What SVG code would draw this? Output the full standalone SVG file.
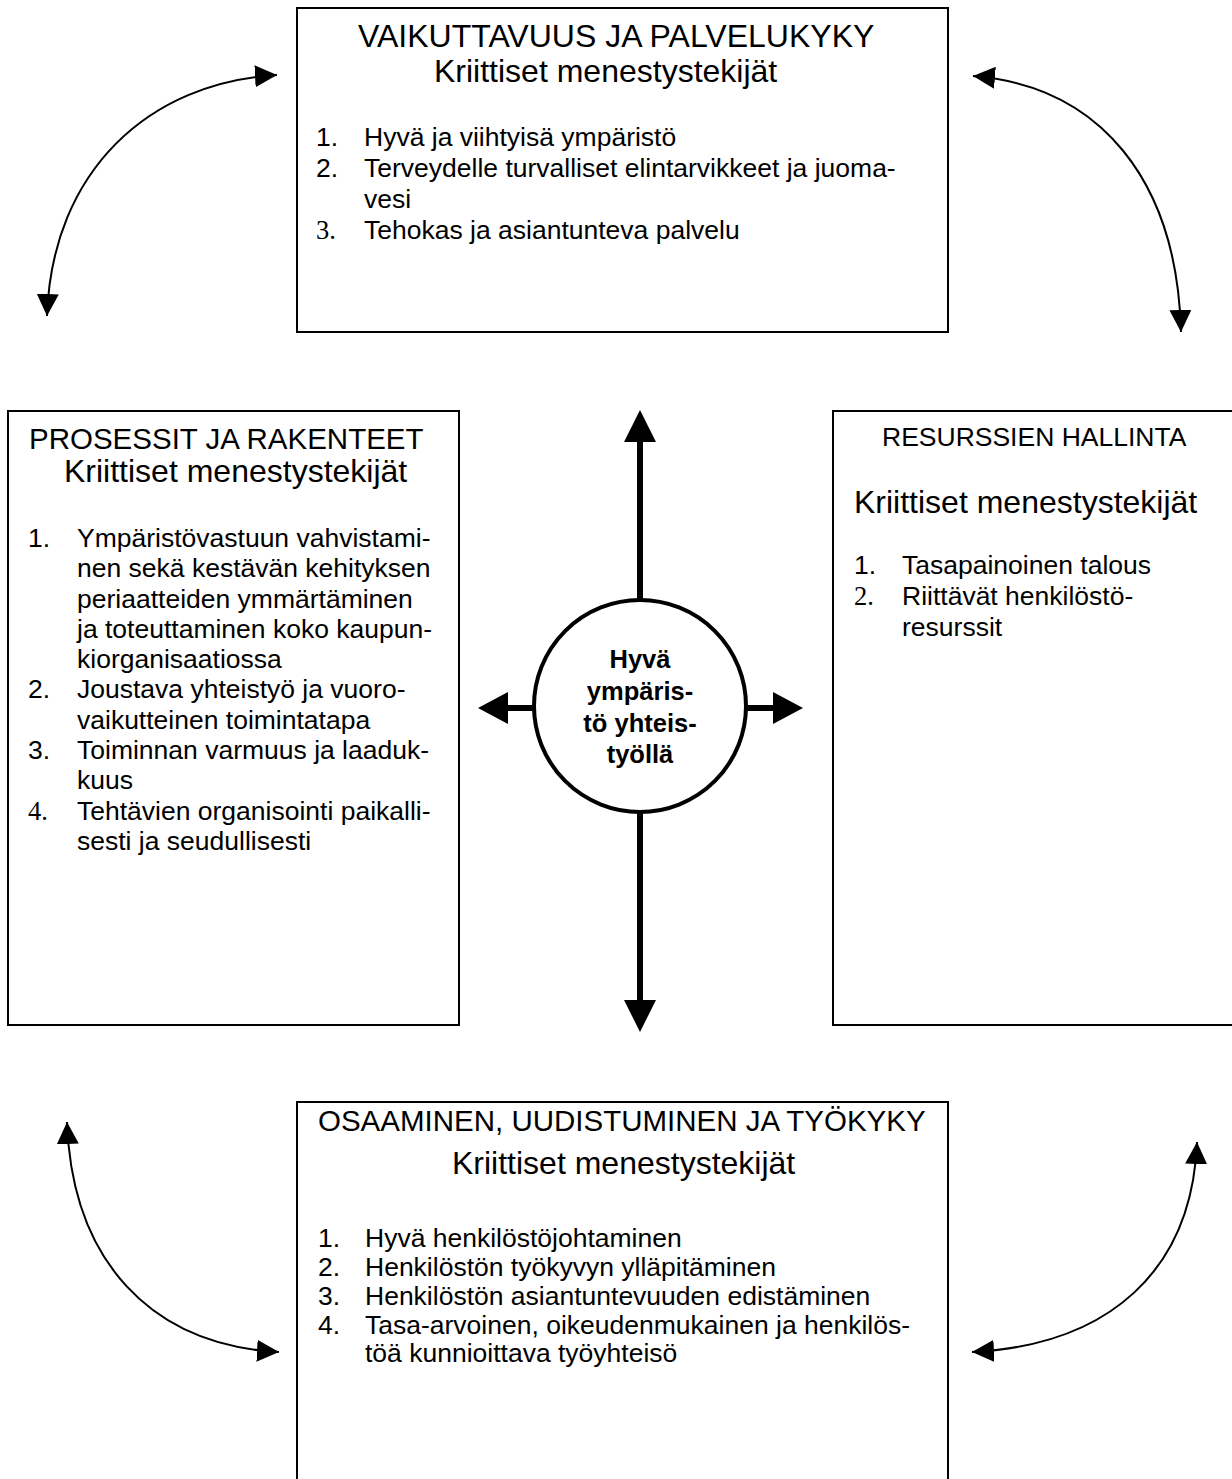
<svg xmlns="http://www.w3.org/2000/svg" width="1232" height="1479" viewBox="0 0 1232 1479">
<style>
.box{fill:#fff;stroke:#000;stroke-width:2}
.t{font-family:"Liberation Sans",Arial,sans-serif;fill:#000}
.h14{font-size:32px}
.h13{font-size:29.5px}
.h12{font-size:26.5px}
.li{font-size:26.5px}
.ser{font-family:"Liberation Serif","Times New Roman",serif}
.c{font-family:"Liberation Sans",Arial,sans-serif;font-size:25.5px;font-weight:bold;text-anchor:middle}
.thin{fill:none;stroke:#000;stroke-width:2}
.thick{stroke:#000;stroke-width:6}
</style>
<defs>
<marker id="ah" viewBox="0 0 22 22" markerWidth="22" markerHeight="22" markerUnits="userSpaceOnUse" refX="22" refY="11" orient="auto-start-reverse">
<path d="M0,0 L22,11 L0,22 z" fill="#000"/>
</marker>
</defs>
<rect width="1232" height="1479" fill="#fff"/>

<g id="top">
<rect class="box" x="297" y="8" width="651" height="324"/>
<text class="t h14" x="358" y="47">VAIKUTTAVUUS JA PALVELUKYKY</text>
<text class="t h14" x="434" y="82">Kriittiset menestystekijät</text>
<text class="t li" x="316" y="146">1.</text><text class="t li" x="364" y="146">Hyvä ja viihtyisä ympäristö</text>
<text class="t li" x="316" y="177">2.</text><text class="t li" x="364" y="177">Terveydelle turvalliset elintarvikkeet ja juoma-</text>
<text class="t li" x="364" y="208">vesi</text>
<text class="t li ser" x="316" y="239">3.</text><text class="t li" x="364" y="239">Tehokas ja asiantunteva palvelu</text>
</g>

<g id="left">
<rect class="box" x="8" y="411" width="451" height="614"/>
<text class="t h13" x="29" y="449">PROSESSIT JA RAKENTEET</text>
<text class="t h14" x="64" y="482">Kriittiset menestystekijät</text>
<text class="t li" x="28" y="547">1.</text><text class="t li" x="77" y="547">Ympäristövastuun vahvistami-</text>
<text class="t li" x="77" y="577">nen sekä kestävän kehityksen</text>
<text class="t li" x="77" y="608">periaatteiden  ymmärtäminen</text>
<text class="t li" x="77" y="638">ja toteuttaminen koko kaupun-</text>
<text class="t li" x="77" y="668">kiorganisaatiossa</text>
<text class="t li" x="28" y="698">2.</text><text class="t li" x="77" y="698">Joustava yhteistyö ja vuoro-</text>
<text class="t li" x="77" y="729">vaikutteinen toimintatapa</text>
<text class="t li" x="28" y="759">3.</text><text class="t li" x="77" y="759">Toiminnan varmuus ja laaduk-</text>
<text class="t li" x="77" y="789">kuus</text>
<text class="t li ser" x="28" y="820">4.</text><text class="t li" x="77" y="820">Tehtävien organisointi paikalli-</text>
<text class="t li" x="77" y="850">sesti ja seudullisesti</text>
</g>

<g id="right">
<path class="box" d="M1240 411 H833 V1025 H1240" />
<text class="t h12" x="882" y="446">RESURSSIEN HALLINTA</text>
<text class="t h14" x="854" y="513">Kriittiset menestystekijät</text>
<text class="t li" x="854" y="574">1.</text><text class="t li" x="902" y="574">Tasapainoinen talous</text>
<text class="t li ser" x="854" y="605">2.</text><text class="t li" x="902" y="605">Riittävät henkilöstö-</text>
<text class="t li" x="902" y="636">resurssit</text>
</g>

<g id="bottom">
<path class="box" d="M297 1490 V1102 H948 V1490"/>
<text class="t h13" x="318" y="1131">OSAAMINEN, UUDISTUMINEN JA TYÖKYKY</text>
<text class="t h14" x="452" y="1174">Kriittiset menestystekijät</text>
<text class="t li" x="318" y="1247">1.</text><text class="t li" x="365" y="1247">Hyvä henkilöstöjohtaminen</text>
<text class="t li" x="318" y="1276">2.</text><text class="t li" x="365" y="1276">Henkilöstön työkyvyn ylläpitäminen</text>
<text class="t li" x="318" y="1305">3.</text><text class="t li" x="365" y="1305">Henkilöstön asiantuntevuuden edistäminen</text>
<text class="t li" x="318" y="1334">4.</text><text class="t li" x="365" y="1334">Tasa-arvoinen, oikeudenmukainen ja henkilös-</text>
<text class="t li" x="365" y="1362">töä kunnioittava työyhteisö</text>
</g>

<g id="center">
<circle cx="640" cy="706" r="106" fill="#fff" stroke="#000" stroke-width="4"/>
<text class="c" x="640" y="668">Hyvä</text>
<text class="c" x="640" y="700">ympäris-</text>
<text class="c" x="640" y="732">tö yhteis-</text>
<text class="c" x="640" y="763">työllä</text>
</g>

<g id="connectors">
<line class="thick" x1="640" y1="600" x2="640" y2="438"/>
<polygon points="640,410 624,442 656,442"/>
<line class="thick" x1="640" y1="812" x2="640" y2="1004"/>
<polygon points="640,1032 624,1000 656,1000"/>
<line class="thick" x1="535" y1="708" x2="505" y2="708"/>
<polygon points="478,708 508,692 508,724"/>
<line class="thick" x1="745" y1="708" x2="776" y2="708"/>
<polygon points="803,708 773,692 773,724"/>
<path class="thin" d="M277 75 C150 82, 52 170, 47 316" marker-start="url(#ah)" marker-end="url(#ah)"/>
<path class="thin" d="M973 76 C1100 86, 1177 180, 1181 332" marker-start="url(#ah)" marker-end="url(#ah)"/>
<path class="thin" d="M67 1122 C72 1260, 150 1345, 279 1352" marker-start="url(#ah)" marker-end="url(#ah)"/>
<path class="thin" d="M1197 1142 C1192 1270, 1110 1345, 972 1352" marker-start="url(#ah)" marker-end="url(#ah)"/>
</g>
</svg>
